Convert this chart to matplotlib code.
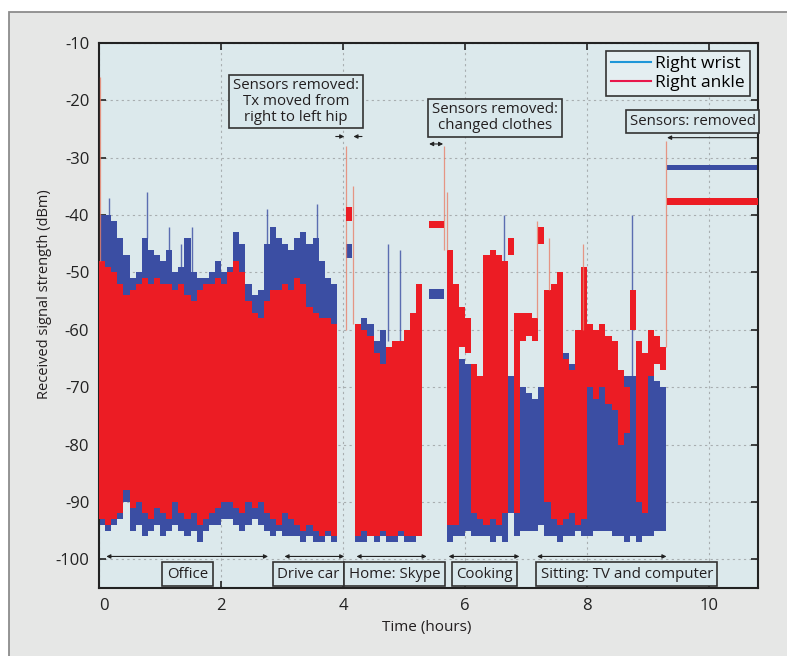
import numpy as np
import matplotlib
matplotlib.use('Agg')
import matplotlib.pyplot as plt
from matplotlib.patches import Rectangle
from matplotlib.lines import Line2D
from matplotlib.transforms import ScaledTranslation

plt.rcParams['font.family'] = ['Open Sans', 'DejaVu Sans']
plt.rcParams['axes.unicode_minus'] = False

#------------------------------   Data   --------------------------------------

#Time grid of the noisy record (hours), one value per 0.1 h bin
hours = np.round(np.arange(0.0, 9.31, 0.1), 1)

#Envelope of each sensor per bin (dBm), nan = sensors removed
red_hi = [-48, -49, -50, -52, -54, -53, -52, -51, -52, -51,
          -52, -52, -53, -52, -54, -55, -53, -52, -52, -51,
          -52, -50, -48, -50, -55, -57, -58, -55, -53, -53,
          -52, -53, -51, -52, -56, -57, -58, -58, -59, -60,
          np.nan, np.nan, -59, -60, -61, -64, -66, -63, -62, -62,
          -60, -57, -52, -49, np.nan, np.nan, np.nan, -46, -52, -56,
          -58, -66, -68, -47, -46, -47, -48, -44, -57, -57,
          -57, -58, -42, -53, -52, -50, -65, -67, -60, -49,
          -59, -60, -59, -61, -62, -67, -70, -53, -62, -64,
          -60, -61, -63, -63]
red_lo = [-93, -94, -93, -92, -88, -91, -90, -92, -93, -91,
          -92, -93, -90, -92, -93, -92, -94, -93, -92, -91,
          -90, -90, -91, -92, -90, -91, -90, -92, -93, -94,
          -92, -93, -94, -95, -94, -95, -96, -95, -96, -95,
          np.nan, np.nan, -96, -95, -96, -96, -95, -96, -96, -95,
          -96, -96, -96, -95, np.nan, np.nan, np.nan, -94, -94, -63,
          -64, -92, -93, -94, -93, -94, -92, -47, -92, -62,
          -61, -62, -45, -90, -93, -94, -93, -92, -94, -93,
          -70, -72, -70, -73, -74, -80, -78, -60, -90, -92,
          -68, -66, -67, -67]
blue_hi = [-40, -40, -41, -44, -47, -51, -50, -44, -46, -47,
           -48, -46, -50, -49, -44, -50, -51, -51, -50, -48,
           -50, -49, -43, -45, -52, -54, -53, -45, -42, -44,
           -45, -46, -44, -43, -45, -44, -48, -51, -52, -55,
           np.nan, np.nan, -60, -58, -59, -62, -60, -64, -63, -64,
           -62, -60, -56, -53, np.nan, np.nan, np.nan, -60, -62, -65,
           -66, -67, -68, -55, -52, -55, -60, -68, -70, -70,
           -71, -72, -70, -62, -60, -58, -64, -66, -65, -60,
           -63, -63, -64, -66, -67, -67, -68, -68, -68, -70,
           -68, -69, -70, -70]
blue_lo = [-94, -95, -94, -93, -90, -95, -94, -96, -95, -94,
           -96, -95, -94, -95, -96, -95, -97, -95, -94, -94,
           -93, -93, -94, -95, -94, -93, -94, -95, -96, -95,
           -96, -96, -96, -97, -96, -97, -97, -96, -97, -96,
           np.nan, np.nan, -97, -97, -96, -97, -96, -97, -97, -96,
           -97, -97, -96, -96, np.nan, np.nan, np.nan, -97, -96, -96,
           -95, -96, -96, -96, -97, -96, -97, -92, -96, -95,
           -95, -95, -94, -96, -96, -97, -96, -96, -95, -96,
           -96, -95, -95, -95, -96, -96, -97, -96, -97, -96,
           -96, -95, -95, -95]

#Steady levels while the sensors were off the body
flat_start = [4.05, 5.41, 9.31]
flat_end = [4.15, 5.66, 10.8]
red_flat_hi = [-38.5, -41.0, -37.0]
red_flat_lo = [-41.0, -42.3, -38.3]
blue_flat_hi = [-45.0, -52.8, -31.2]
blue_flat_lo = [-47.5, -54.6, -32.2]

#Isolated spikes reaching above the envelope
red_spike_t = [0.01, 4.05, 4.16, 5.66, 5.70, 7.17, 7.37, 7.94, 9.30]
red_spike_top = [-16, -28, -35, -28, -36, -41, -44, -45, -27]
red_spike_base = [-48, -60, -59, -46, -46, -58, -53, -60, -63]
blue_spike_t = [0.16, 0.78, 1.14, 1.34, 1.52, 2.75, 3.57, 4.73, 4.93, 6.64, 8.73]
blue_spike_top = [-37, -36, -42, -45, -42, -39, -38, -45, -46, -40, -40]
blue_spike_base = [-40, -44, -46, -49, -50, -45, -44, -62, -62, -60, -68]

#Activity periods along the bottom (hours)
act_names = ['Office', 'Drive car', 'Home: Skype', 'Cooking', 'Sitting: TV and computer']
act_start = [0.12, 3.04, 4.22, 5.73, 7.18]
act_end = [2.77, 4.02, 5.37, 6.89, 9.30]
act_label_x = [1.45, 3.43, 4.84, 6.32, 8.65]

#------------------------------   Plot   --------------------------------------

red = '#ec1c24'
blue = '#3b4ea3'
txtcol = '#231f20'
boxcol = '#d9e8ec'

fig = plt.figure(figsize=(7.87, 6.56), dpi=100)
fig.patch.set_facecolor('white')
fig.add_artist(Rectangle((9/787, -0.01), 1.0, 1 - 12/656 + 0.01, transform=fig.transFigure,
                         facecolor='#e6e7e6', edgecolor='#8c8c8c', lw=1.3, zorder=0))

ax = fig.add_axes([99/787, 1 - 588/656, 659/787, 545/656])
ax.set_facecolor('#dce9ec')

#Envelopes
ax.fill_between(hours, blue_lo, blue_hi, step='post', color=blue, lw=0, zorder=2)
ax.fill_between(hours, red_lo, red_hi, step='post', color=red, lw=0, zorder=3)
ax.vlines(blue_spike_t, blue_spike_base, blue_spike_top, color=blue, lw=1.0, alpha=0.8, zorder=2)
ax.vlines(red_spike_t, red_spike_base, red_spike_top, color='#e8806a', lw=0.9, alpha=0.8, zorder=3)

for i in range(len(flat_start)):
    ax.fill_between([flat_start[i], flat_end[i]], blue_flat_lo[i], blue_flat_hi[i],
                    color=blue, lw=0, zorder=2)
    ax.fill_between([flat_start[i], flat_end[i]], red_flat_lo[i], red_flat_hi[i],
                    color=red, lw=0, zorder=3)

#Axes
ax.set_xlim(0, 10.8)
ax.set_ylim(-105, -10)
ax.set_xticks([0, 2, 4, 6, 8, 10])
ax.set_yticks(np.arange(-100, -9, 10))
ax.grid(True, color='#a8aeb0', linestyle=(0, (2, 3)), lw=0.8)
ax.set_axisbelow(True)
ax.tick_params(direction='in', length=5, width=1.2, top=True, right=True,
               labelsize=12, colors='#222222', pad=7)
for s in ax.spines.values():
    s.set_linewidth(1.5)
    s.set_color('#222222')

#The zero label sits a little right of its tick in the original
lab0 = ax.get_xticklabels()[0]
lab0.set_transform(lab0.get_transform() + ScaledTranslation(5/100, 0, fig.dpi_scale_trans))

fig.text(45/787, 1 - 294/656, 'Received signal strength (dBm)', rotation=90,
         ha='center', va='center', fontsize=10.5, color=txtcol)
fig.text(427/787, 1 - 627/656, 'Time (hours)', ha='center', va='center',
         fontsize=11, color=txtcol)

#Legend
handles = [Line2D([], [], color='#1e96d8', lw=1.5), Line2D([], [], color='#e8174b', lw=1.5)]
leg = ax.legend(handles, ['Right wrist', 'Right ankle'], loc='upper right', fontsize=12.5,
                frameon=True, fancybox=False, edgecolor='#333333', facecolor='#e4eef1',
                framealpha=1, handlelength=2.3, handletextpad=0.25, borderpad=0.3,
                labelspacing=0.15, borderaxespad=0.45)
leg.get_frame().set_linewidth(1.2)

#Annotations
bbox = dict(boxstyle='square,pad=0.25', facecolor=boxcol, edgecolor='#333333', lw=1.2)
ax.text(3.23, -20.2, 'Sensors removed:\nTx moved from\nright to left hip', ha='center',
        va='center', fontsize=10.8, color=txtcol, bbox=bbox, linespacing=1.05, zorder=6)
ax.text(6.49, -23.0, 'Sensors removed:\nchanged clothes', ha='center', va='center',
        fontsize=10.8, color=txtcol, bbox=bbox, linespacing=1.05, zorder=6)
ax.text(10.76, -23.7, 'Sensors: removed', ha='right', va='center', fontsize=10.8,
        color=txtcol, bbox=bbox, zorder=6)

arr = dict(arrowstyle='-|>', color='#222222', lw=0.8, mutation_scale=6, shrinkA=0, shrinkB=0)
ax.annotate('', xy=(4.02, -26.3), xytext=(3.88, -26.3), arrowprops=arr)
ax.annotate('', xy=(4.17, -26.3), xytext=(4.31, -26.3), arrowprops=arr)
ax.annotate('', xy=(9.31, -26.5), xytext=(10.8, -26.5), arrowprops=arr)
arr2 = dict(arrowstyle='<|-|>', color='#222222', lw=0.8, mutation_scale=6, shrinkA=0, shrinkB=0)
ax.annotate('', xy=(5.64, -27.6), xytext=(5.41, -27.6), arrowprops=arr2)

bbox2 = dict(boxstyle='square,pad=0.3', facecolor=boxcol, edgecolor='#333333', lw=1.2)
for i in range(len(act_names)):
    ax.annotate('', xy=(act_end[i], -99.5), xytext=(act_start[i], -99.5), arrowprops=arr2)
    ax.text(act_label_x[i], -102.6, act_names[i], ha='center', va='center', fontsize=10.8,
            color=txtcol, bbox=bbox2, zorder=6)

plt.savefig('out.png', dpi=100)
